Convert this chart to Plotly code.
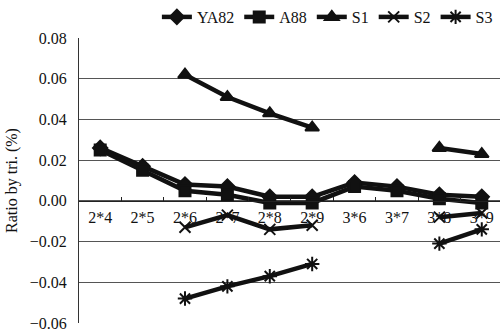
import plotly.graph_objects as go

# Category labels (crossing combinations)
categories = ["2*4", "2*5", "2*6", "2*7", "2*8", "2*9", "3*6", "3*7", "3*8", "3*9"]

# Ratio by tri. (%) for each series; None leaves a gap in the line
ya82 = [0.026, 0.017, 0.008, 0.007, 0.002, 0.002, 0.009, 0.007, 0.003, 0.002]
a88 = [0.025, 0.015, 0.005, 0.003, -0.001, -0.001, 0.007, 0.005, 0.001, -0.001]
s1 = [None, None, 0.062, 0.051, 0.043, 0.036, None, None, 0.026, 0.023]
s2 = [None, None, -0.013, -0.007, -0.014, -0.012, None, None, -0.008, -0.006]
s3 = [None, None, -0.048, -0.042, -0.037, -0.031, None, None, -0.021, -0.014]

y_ticks = [-0.06, -0.04, -0.02, 0.0, 0.02, 0.04, 0.06, 0.08]

series = [
    ("YA82", ya82, "diamond", 11),
    ("A88", a88, "square", 11),
    ("S1", s1, "triangle-up", 12),
    ("S2", s2, "x-thin-open", 11),
    ("S3", s3, "asterisk-open", 12),
]

ink = "#111111"
fig = go.Figure()
for name, vals, sym, size in series:
    fig.add_trace(go.Scatter(
        x=categories, y=vals, name=name, mode="lines+markers",
        line=dict(color=ink, width=4.5),
        marker=dict(symbol=sym, size=size, color=ink,
                    line=dict(color=ink, width=2)),
        connectgaps=False,
    ))

serif = "'Times New Roman', 'Liberation Serif', 'DejaVu Serif', serif"
y_min, y_max = -0.06, 0.08

fig.update_layout(
    width=500, height=332,
    margin=dict(l=79, r=0, t=38, b=9),
    paper_bgcolor="white", plot_bgcolor="white",
    font=dict(family=serif, size=16, color="#111111"),
    showlegend=True,
    legend=dict(orientation="h", x=0.185, xanchor="left", y=1.075, yanchor="middle",
                font=dict(family=serif, size=16), itemwidth=30,
                bgcolor="rgba(0,0,0,0)", tracegroupgap=0),
    xaxis=dict(
        type="category", range=[-0.5, 9.43],
        anchor="free", position=(0 - y_min) / (y_max - y_min),
        showline=True, linecolor="#222222", linewidth=1,
        showgrid=False, zeroline=False,
        ticks="inside", tickson="boundaries", ticklen=4, tickcolor="#222222",
        tickfont=dict(family=serif, size=16),
        ticklabelstandoff=2,
    ),
    yaxis=dict(
        range=[y_min, y_max], tickvals=y_ticks, tickformat=".2f",
        showline=True, linecolor="#333333", linewidth=1,
        showgrid=True, gridcolor="#555555", gridwidth=1,
        zeroline=False, ticks="",
        tickfont=dict(family=serif, size=16),
        ticklabelstandoff=8,
        title=dict(text="Ratio by tri. (%)", font=dict(family=serif, size=16), standoff=8),
    ),
)

fig.write_html("out.html")
